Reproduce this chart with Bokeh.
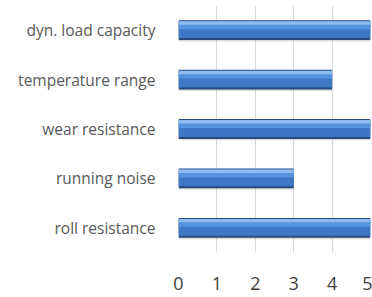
from bokeh.plotting import figure
from bokeh.models import ColumnDataSource, Range1d, FactorRange, FixedTicker
from bokeh.transform import dodge
from bokeh.embed import file_html
from bokeh.resources import INLINE

categories = ["dyn. load capacity", "temperature range", "wear resistance", "running noise", "roll resistance"]
values = [5, 4, 5, 3, 5]
x_ticks = [0, 1, 2, 3, 4, 5]

src = ColumnDataSource(dict(cat=categories, val=values, zero=[0] * len(values)))

p = figure(width=372, height=297, output_backend="svg", toolbar_location=None,
           y_range=FactorRange(*reversed(categories)), x_range=Range1d(0, 5),
           min_border_left=178, min_border_right=2, min_border_top=5, min_border_bottom=45)

# shadow
p.hbar(y=dodge("cat", -0.03, range=p.y_range), left="zero", right="val", height=0.4,
       source=src, fill_color="#9a9a9a", fill_alpha=0.35, line_color=None)
# base dark
p.hbar(y="cat", left="zero", right="val", height=0.4, source=src,
       fill_color="#26497e", line_color=None)
# main body
p.hbar(y=dodge("cat", 0.01, range=p.y_range), left="zero", right="val", height=0.34,
       source=src, fill_color="#3f77c4", line_color=None)
# lighter upper band
p.hbar(y=dodge("cat", 0.09, range=p.y_range), left="zero", right="val", height=0.14,
       source=src, fill_color="#5693de", line_color=None)
# highlight
p.hbar(y=dodge("cat", 0.145, range=p.y_range), left="zero", right="val", height=0.07,
       source=src, fill_color="#8dbbef", line_color=None)

p.outline_line_color = None
p.background_fill_color = "white"
p.border_fill_color = "white"

p.xgrid.grid_line_color = "#d9d9d9"
p.xgrid.grid_line_width = 1
p.ygrid.grid_line_color = None

p.xaxis.ticker = FixedTicker(ticks=x_ticks)
p.xaxis.axis_line_color = None
p.xaxis.major_tick_line_color = None
p.xaxis.minor_tick_line_color = None
p.xaxis.major_label_text_font = "Open Sans"
p.xaxis.major_label_text_font_size = "18px"
p.xaxis.major_label_text_color = "#404040"
p.xaxis.major_label_standoff = 18

p.yaxis.axis_line_color = None
p.yaxis.major_tick_line_color = None
p.yaxis.minor_tick_line_color = None
p.yaxis.major_label_text_font = "Open Sans"
p.yaxis.major_label_text_font_size = "15.5px"
p.yaxis.major_label_text_color = "#595959"
p.yaxis.major_label_standoff = 17

open("out.html", "w").write(file_html(p, INLINE))
